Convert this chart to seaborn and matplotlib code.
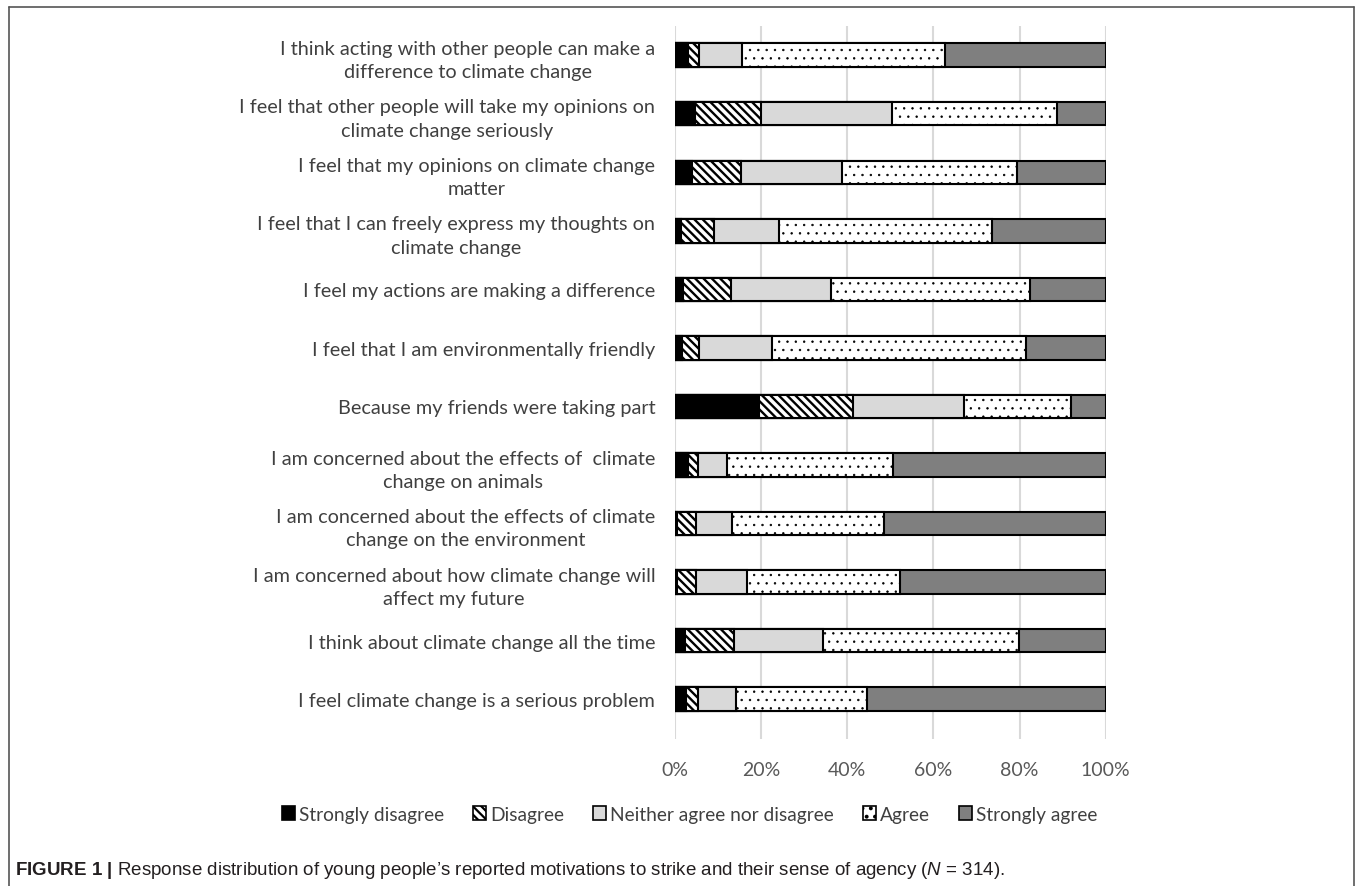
import numpy as np
import pandas as pd
import seaborn as sns
import matplotlib.pyplot as plt
from matplotlib.patches import Patch
from matplotlib.lines import Line2D

categories = [
    "I think acting with other people can make a\ndifference to climate change",
    "I feel that other people will take my opinions on\nclimate change seriously",
    "I feel that my opinions on climate change\nmatter",
    "I feel that I can freely express my thoughts on\nclimate change",
    "I feel my actions are making a difference",
    "I feel that I am environmentally friendly",
    "Because my friends were taking part",
    "I am concerned about the effects of  climate\nchange on animals",
    "I am concerned about the effects of climate\nchange on the environment",
    "I am concerned about how climate change will\naffect my future",
    "I think about climate change all the time",
    "I feel climate change is a serious problem",
]
strongly_disagree = [3.1, 4.8, 4.1, 1.4, 1.9, 1.7, 19.5, 3.1, 0.4, 0.4, 2.3, 2.7]
disagree = [2.5, 15.2, 11.2, 7.7, 11.2, 3.9, 21.9, 2.3, 4.6, 4.6, 11.5, 2.6]
neither = [10.0, 30.4, 23.4, 15.1, 23.1, 17.0, 25.7, 6.8, 8.3, 11.8, 20.6, 9.0]
agree = [47.0, 38.2, 40.7, 49.5, 46.2, 59.0, 24.9, 38.5, 35.2, 35.4, 45.4, 30.2]
strongly_agree = [37.4, 11.4, 20.6, 26.3, 17.6, 18.4, 8.0, 49.3, 51.5, 47.8, 20.2, 55.5]
levels = ["Strongly disagree", "Disagree", "Neither agree nor disagree", "Agree", "Strongly agree"]
tick_labels = ["0%", "20%", "40%", "60%", "80%", "100%"]

sns.set_style("white")
plt.rcParams["font.family"] = ["Lato", "DejaVu Sans"]
plt.rcParams["hatch.linewidth"] = 1.6
plt.rcParams["mathtext.fontset"] = "custom"
plt.rcParams["mathtext.rm"] = "Liberation Sans"
plt.rcParams["mathtext.bf"] = "Liberation Sans:bold"
plt.rcParams["mathtext.it"] = "Liberation Sans:italic"

df = pd.DataFrame({"category": categories, "Strongly disagree": strongly_disagree,
                   "Disagree": disagree, "Neither agree nor disagree": neither,
                   "Agree": agree, "Strongly agree": strongly_agree})
cum = df[levels].cumsum(axis=1)

# facecolor, hatch, hatch line width
styles = {
    "Strongly disagree": ("black", None, 1.6),
    "Disagree": ("white", "\\\\\\\\", 1.7),
    "Neither agree nor disagree": ("#d9d9d9", None, 1.6),
    "Agree": ("white", "..", 0.5),
    "Strongly agree": ("#7f7f7f", None, 1.6),
}

fig = plt.figure(figsize=(13.55, 8.87), dpi=100)
ax = fig.add_axes([0.498, 0.1657, 0.318, 0.804])

# draw cumulative bars from the longest down so each segment shows
for lvl in reversed(levels):
    color, hatch, hlw = styles[lvl]
    plt.rcParams["hatch.linewidth"] = hlw
    n0 = len(ax.patches)
    sns.barplot(x=cum[lvl], y=df["category"], orient="y", color=color,
                width=0.4, errorbar=None, edgecolor="black", linewidth=1.5,
                saturation=1, ax=ax)
    for p in ax.patches[n0:]:
        p.set_facecolor(color)
        if hatch:
            p.set_hatch(hatch)
            if hasattr(p, "set_hatch_linewidth"):
                p.set_hatch_linewidth(hlw)
plt.rcParams["hatch.linewidth"] = 1.6

ax.set_xlim(0, 100)
ax.set_ylim(11.68, -0.5)
ax.set_xticks([0, 20, 40, 60, 80, 100])
ax.set_xticklabels(tick_labels, color="#595959", fontsize=14)
ax.set_xlabel("")
ax.set_ylabel("")
ax.grid(axis="x", color="#d9d9d9", linewidth=1.5)
ax.set_axisbelow(True)
for s in ax.spines.values():
    s.set_visible(False)
ax.tick_params(axis="both", length=0)
ax.tick_params(axis="y", pad=14, labelsize=14.3, labelcolor="#404040")
ax.tick_params(axis="x", pad=16)
for t in ax.get_yticklabels():
    t.set_multialignment("center")
    t.set_linespacing(1.45)

handles = []
for l in levels:
    color, hatch, hlw = styles[l]
    h = Patch(facecolor=color, hatch=hatch, edgecolor="black", linewidth=1.2, label=l)
    if hatch and hasattr(h, "set_hatch_linewidth"):
        h.set_hatch_linewidth(min(hlw, 1.0))
    handles.append(h)
fig.legend(handles=handles, loc="center", bbox_to_anchor=(0.509, 0.081), ncol=5,
           frameon=False, handlelength=0.7, handleheight=0.7, handletextpad=0.2,
           columnspacing=1.5, prop={"size": 13.8}, labelcolor="#404040")

fig.text(0.011, 0.019, r"$\mathbf{FIGURE\ 1\ |}$ Response distribution of young people’s reported "
         r"motivations to strike and their sense of agency ($\mathit{N}$ = 314).",
         fontsize=13.5, family="Liberation Sans", va="center", ha="left", color="#231f20")

# page frame: top, left and right lines
for xs, ys in [([0.0066, 0.9993], [0.991, 0.991]), ([0.0066, 0.0066], [0, 0.991]),
               ([0.9993, 0.9993], [0, 0.991])]:
    fig.add_artist(Line2D(xs, ys, color="#555555", linewidth=1.2, transform=fig.transFigure))

fig.savefig("out.png", dpi=100)
